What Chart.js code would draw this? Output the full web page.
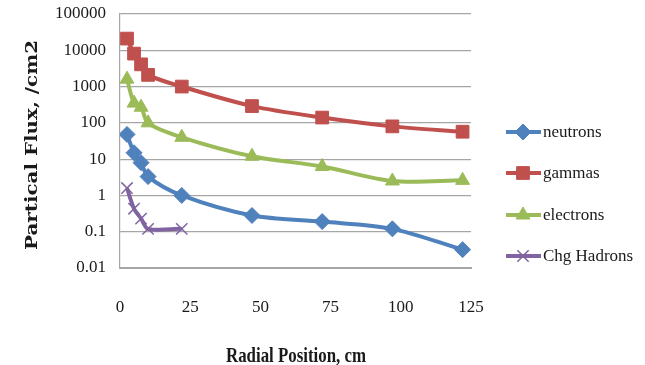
<!DOCTYPE html>
<html>
<head>
<meta charset="utf-8">
<script src="https://cdn.jsdelivr.net/npm/chart.js@4/dist/chart.umd.min.js"></script>
<style>
  html, body { margin: 0; padding: 0; background: #fff; }
  #wrap { width: 645px; height: 365px; }
</style>
</head>
<body>
<div id="wrap"><canvas id="c" width="645" height="365"></canvas></div>
<script>
// Radial positions (cm) and particle flux per series (/cm2)
const positions = [2.5, 5, 7.5, 10, 22, 47, 72, 97, 122];
const hadronPositions = [2.5, 5, 7.5, 10, 22];
const neutrons = [48, 15, 8, 3.3, 1.0, 0.28, 0.19, 0.12, 0.032];
const gammas = [21000, 8100, 4100, 2100, 1000, 290, 140, 80, 57];
const electrons = [1600, 350, 270, 100, 40, 12, 6.3, 2.5, 2.6];
const hadrons = [1.6, 0.43, 0.23, 0.12, 0.12];
const yTicks = [0.01, 0.1, 1, 10, 100, 1000, 10000, 100000];
const seriesNames = ['neutrons', 'gammas', 'electrons', 'Chg Hadrons'];
const xTitle = 'Radial Position, cm';
const yTitle = 'Partical Flux, /cm2';

const colors = ['#4F81BD', '#C0504D', '#9BBB59', '#8064A2'];
const pointStyles = ['rectRot', 'rect', 'triangle', 'crossRot'];
const radii = [8, 9, 8, 8];

const pairs = (xs, ys) => xs.map((x, i) => ({x: x, y: ys[i]}));
const seriesData = [
  pairs(positions, neutrons),
  pairs(positions, gammas),
  pairs(positions, electrons),
  pairs(hadronPositions, hadrons)
];

const serif = '"Liberation Serif", "DejaVu Serif", serif';

// Text fitted to a given length along its baseline (narrow, tall title lettering)
function fittedText(ctx, text, font, cx, cy, length, rotation) {
  ctx.save();
  ctx.font = font;
  const w = ctx.measureText(text).width;
  ctx.translate(cx, cy);
  ctx.rotate(rotation);
  ctx.scale(length / w, 1);
  ctx.textAlign = 'center';
  ctx.textBaseline = 'middle';
  ctx.fillStyle = '#1a1a1a';
  ctx.fillText(text, 0, 0);
  ctx.restore();
}

// Axis titles
const axisTitles = {
  id: 'axisTitles',
  afterDraw(chart) {
    const ctx = chart.ctx;
    fittedText(ctx, xTitle, 'bold 22px ' + serif, 296, 356, 140, 0);
    fittedText(ctx, yTitle, 'bold 17px "DejaVu Serif", serif', 33, 145, 210, -Math.PI / 2);
  }
};

// Legend drawn beside the plot: short line with the series marker, then the name
const sideLegend = {
  id: 'sideLegend',
  afterDraw(chart) {
    const ctx = chart.ctx;
    const rows = [132, 173, 215, 256];
    chart.data.datasets.forEach((ds, i) => {
      const y = rows[i];
      ctx.save();
      ctx.strokeStyle = ds.borderColor;
      ctx.lineWidth = 4;
      ctx.beginPath();
      ctx.moveTo(506, y);
      ctx.lineTo(541, y);
      ctx.stroke();
      ctx.fillStyle = ds.borderColor;
      ctx.strokeStyle = ds.borderColor;
      ctx.lineWidth = ds.pointStyle === 'crossRot' ? 1.5 : 1;
      Chart.helpers.drawPoint(ctx, {pointStyle: ds.pointStyle, radius: ds.pointRadius, borderWidth: ctx.lineWidth, rotation: 0}, 523, y);
      ctx.fillStyle = '#1a1a1a';
      ctx.font = '17px ' + serif;
      ctx.textBaseline = 'middle';
      ctx.textAlign = 'left';
      ctx.fillText(ds.label, 543, y + 1);
      ctx.restore();
    });
  }
};

new Chart(document.getElementById('c'), {
  type: 'line',
  data: {
    datasets: seriesNames.map((name, i) => ({
      label: name,
      data: seriesData[i],
      borderColor: colors[i],
      backgroundColor: colors[i],
      pointBackgroundColor: colors[i],
      pointBorderColor: colors[i],
      pointStyle: pointStyles[i],
      pointRadius: radii[i],
      pointBorderWidth: i === 3 ? 1.5 : 1,
      borderWidth: 4,
      tension: 0.3,
      fill: false
    }))
  },
  options: {
    responsive: false,
    animation: false,
    layout: { padding: { top: 14, right: 174, left: 0, bottom: 0 } },
    plugins: { legend: { display: false }, tooltip: { enabled: false } },
    scales: {
      x: {
        type: 'linear',
        min: 0,
        max: 125,
        ticks: { stepSize: 25, padding: 29, color: '#1a1a1a', font: { family: serif, size: 17 } },
        grid: { display: false, drawTicks: false },
        border: { display: true, color: '#A6A6A6', width: 2 },
        title: { display: false },
        afterFit(scale) { scale.height = 97; scale.paddingLeft = 0; scale.paddingRight = 0; }
      },
      y: {
        type: 'logarithmic',
        min: 0.01,
        max: 100000,
        afterBuildTicks(scale) { scale.ticks = yTicks.map(v => ({ value: v, major: true })); },
        ticks: {
          padding: 14,
          color: '#1a1a1a',
          font: { family: serif, size: 17 },
          callback: (v) => String(v)
        },
        grid: { color: '#A6A6A6', lineWidth: 1.2, drawTicks: false },
        border: { display: true, color: '#A6A6A6', width: 1.2 },
        title: { display: false },
        afterFit(scale) { scale.width = 120; scale.paddingTop = 0; scale.paddingBottom = 0; }
      }
    }
  },
  plugins: [sideLegend, axisTitles]
});
</script>
</body>
</html>
